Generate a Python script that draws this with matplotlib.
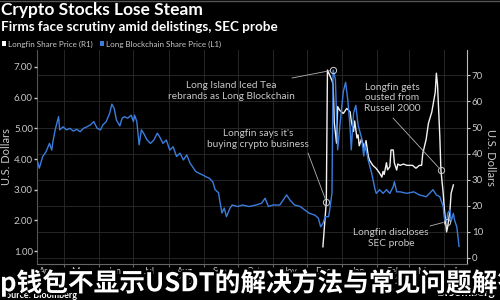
import matplotlib
matplotlib.use("Agg")
import matplotlib.pyplot as plt
import matplotlib.dates as mdates
import matplotlib.patheffects as pe
import matplotlib.transforms as mtrans
from matplotlib.patches import Patch
from matplotlib.lines import Line2D
import pandas as pd

# Long Blockchain (left axis, L1)
blockchain_dates = [
    "2017-04-07", "2017-04-09", "2017-04-12", "2017-04-15", "2017-04-18", "2017-04-20",
    "2017-04-21", "2017-04-23", "2017-04-26", "2017-04-27", "2017-04-30", "2017-05-03",
    "2017-05-06", "2017-05-09", "2017-05-12", "2017-05-15", "2017-05-18", "2017-05-21",
    "2017-05-24", "2017-05-27", "2017-05-30", "2017-06-02", "2017-06-04", "2017-06-07",
    "2017-06-10", "2017-06-12", "2017-06-14", "2017-06-16", "2017-06-19", "2017-06-21",
    "2017-06-23", "2017-06-26", "2017-06-29", "2017-07-01", "2017-07-02", "2017-07-04",
    "2017-07-06", "2017-07-08", "2017-07-10", "2017-07-13", "2017-07-16", "2017-07-19",
    "2017-07-22", "2017-07-24", "2017-07-27", "2017-07-30", "2017-08-02", "2017-08-05",
    "2017-08-08", "2017-08-11", "2017-08-14", "2017-08-17", "2017-08-20", "2017-08-22",
    "2017-08-25", "2017-08-28", "2017-08-31", "2017-09-03", "2017-09-06", "2017-09-09",
    "2017-09-11", "2017-09-14", "2017-09-15", "2017-09-17", "2017-09-19", "2017-09-21",
    "2017-09-24", "2017-09-26", "2017-10-01", "2017-10-05", "2017-10-11", "2017-10-17",
    "2017-10-22", "2017-10-25", "2017-10-28", "2017-11-01", "2017-11-07", "2017-11-11",
    "2017-11-13", "2017-11-16", "2017-11-20", "2017-11-25", "2017-11-29", "2017-12-03",
    "2017-12-08", "2017-12-11", "2017-12-13", "2017-12-15", "2017-12-17", "2017-12-20",
    "2017-12-21", "2017-12-23", "2017-12-24", "2017-12-26", "2017-12-28", "2017-12-30",
    "2018-01-02", "2018-01-04", "2018-01-06", "2018-01-08", "2018-01-09", "2018-01-11",
    "2018-01-13", "2018-01-15", "2018-01-18", "2018-01-20", "2018-01-21", "2018-01-24",
    "2018-01-27", "2018-01-30", "2018-01-31", "2018-02-03", "2018-02-06", "2018-02-09",
    "2018-02-12", "2018-02-15", "2018-02-16", "2018-02-18", "2018-02-21", "2018-02-27",
    "2018-03-05", "2018-03-10", "2018-03-16", "2018-03-19", "2018-03-22", "2018-03-25",
    "2018-03-28", "2018-03-31", "2018-04-01", "2018-04-03", "2018-04-04", "2018-04-06",
    "2018-04-07", "2018-04-09", "2018-04-10", "2018-04-12", "2018-04-13", "2018-04-14",
]
blockchain_price = [
    3.97, 3.70, 4.08, 4.24, 4.51, 4.29,
    4.56, 4.95, 5.38, 4.95, 5.05, 4.95,
    5.00, 4.91, 4.97, 4.89, 5.00, 5.05,
    5.11, 5.22, 5.00, 4.95, 5.11, 5.22,
    5.49, 5.79, 5.65, 5.27, 5.08, 5.33,
    5.38, 5.33, 5.43, 5.22, 5.43, 5.22,
    4.46, 4.95, 4.84, 4.62, 4.51, 4.62,
    4.84, 4.73, 4.51, 4.62, 4.29, 4.40,
    4.08, 4.19, 3.97, 4.13, 3.86, 3.75,
    3.59, 3.53, 3.48, 3.42, 3.37, 3.25,
    3.00, 2.90, 2.66, 2.24, 2.40, 2.12,
    2.39, 2.50, 2.45, 2.50, 2.45, 2.50,
    2.56, 2.72, 2.45, 2.50, 2.50, 2.72,
    2.83, 2.66, 2.50, 2.45, 2.34, 2.23,
    2.17, 2.07, 1.79, 1.90, 2.12, 2.12,
    2.34, 2.90, 6.90, 6.60, 4.30, 5.10,
    6.20, 6.50, 5.90, 5.00, 4.30, 5.50,
    5.75, 5.10, 4.70, 4.10, 4.50, 3.95,
    3.53, 3.00, 2.88, 3.00, 2.88, 3.00,
    2.88, 3.10, 3.26, 2.93, 2.93, 2.88,
    2.93, 2.83, 2.77, 2.88, 3.00, 2.83,
    2.77, 2.45, 2.07, 1.96, 2.23, 2.34,
    1.96, 2.23, 2.01, 1.79, 1.47, 1.15,
]

# Longfin (right axis, R1)
longfin_dates = [
    "2017-12-15", "2017-12-18", "2017-12-19", "2017-12-21", "2017-12-23", "2017-12-24",
    "2017-12-25", "2017-12-27", "2017-12-28", "2017-12-30", "2018-01-02", "2018-01-05",
    "2018-01-08", "2018-01-09", "2018-01-11", "2018-01-12", "2018-01-14", "2018-01-15",
    "2018-01-16", "2018-01-18", "2018-01-21", "2018-01-22", "2018-01-24", "2018-01-25",
    "2018-01-28", "2018-01-31", "2018-02-03", "2018-02-05", "2018-02-06", "2018-02-07",
    "2018-02-09", "2018-02-10", "2018-02-12", "2018-02-13", "2018-02-15", "2018-02-16",
    "2018-02-18", "2018-02-19", "2018-02-21", "2018-02-24", "2018-02-27", "2018-03-02",
    "2018-03-04", "2018-03-07", "2018-03-10", "2018-03-12", "2018-03-13", "2018-03-16",
    "2018-03-18", "2018-03-21", "2018-03-22", "2018-03-24", "2018-03-25", "2018-03-26",
    "2018-03-28", "2018-03-29", "2018-03-31", "2018-04-01", "2018-04-03", "2018-04-04",
    "2018-04-06", "2018-04-07", "2018-04-09",
]
longfin_price = [
    4.3, 21.6, 72.0, 70.0, 68.0, 66.5,
    52.0, 44.0, 58.0, 56.5, 55.4, 57.3,
    56.0, 52.5, 48.5, 52.5, 46.0, 47.2,
    43.0, 45.6, 41.4, 45.0, 39.0, 37.5,
    35.5, 34.3, 32.5, 31.0, 33.2, 32.0,
    36.5, 33.8, 35.0, 41.4, 41.4, 36.4,
    33.7, 36.0, 35.5, 36.0, 35.5, 35.5,
    35.5, 34.4, 35.5, 35.5, 40.0, 45.5,
    51.6, 56.0, 58.5, 63.5, 70.8, 66.5,
    47.0, 33.7, 25.0, 19.0, 10.0, 12.0,
    18.4, 24.8, 28.0,
]

# annotations: text, series, event date
notes = [
    ("Long Island Iced Tea\nrebrands as Long Blockchain", "blockchain", "2017-12-24"),
    ("Longfin says it's\nbuying crypto business", "longfin", "2017-12-18"),
    ("Longfin gets\nousted from\nRussell 2000", "longfin", "2018-03-29"),
    ("Longfin discloses\nSEC probe", "blockchain", "2018-04-03"),
]
# text centre and line start, in pixels from the top-left corner
note_text_px = [(231, 91), (258, 139), (392, 98), (391, 238)]
note_line_px = [(292, 78), (308, 153), (393, 118), (430, 226)]

title = "Crypto Stocks Lose Steam"
subtitle = "Firms face scrutiny amid delistings, SEC probe"
overlay = "p钱包不显示USDT的解决方法与常见问题解答"

W, H = 500, 300
BLUE = "#3b7ddd"
WHITE = "#f2f2f2"
GREY = "#c9c9c9"
GRID = "#2c2c2c"
FONT = "Lato"

fig = plt.figure(figsize=(5, 3), dpi=100, facecolor="black")
ax_r = fig.add_axes([37 / W, 1 - 264 / H, 430 / W, 214 / H])
ax = ax_r.twinx()
ax_r.yaxis.tick_right()
ax.yaxis.tick_left()
ax_r.yaxis.set_label_position("right")
ax.yaxis.set_label_position("left")
ax.set_zorder(ax_r.get_zorder() + 1)
ax.patch.set_visible(False)
ax_r.set_facecolor("black")

bd = pd.to_datetime(blockchain_dates)
ld = pd.to_datetime(longfin_dates)
ax_r.plot(ld, longfin_price, color=WHITE, lw=1.0)
ax.plot(bd, blockchain_price, color=BLUE, lw=1.0)

ax.set_ylim(0.577, 7.554)
ax_r.set_ylim(-2.3, 79.7)
ax.set_xlim(pd.Timestamp("2017-04-07"), pd.Timestamp("2018-04-21"))

ax.set_yticks([1, 2, 3, 4, 5, 6, 7])
ax.set_yticklabels(["%.2f" % v for v in [1, 2, 3, 4, 5, 6, 7]])
ax_r.set_yticks(range(0, 80, 10))

for a in (ax, ax_r):
    for s in a.spines.values():
        s.set_visible(False)
ax_r.spines["left"].set_visible(True)
ax_r.spines["right"].set_visible(True)
ax_r.spines["bottom"].set_visible(True)
ax_r.spines["left"].set_color("#555555")
ax_r.spines["bottom"].set_color("#666666")
ax_r.spines["right"].set_color("#bbbbbb")
for s in ax_r.spines.values():
    s.set_linewidth(0.8)

ax.tick_params(axis="y", colors=GREY, labelsize=7, length=2, width=1, pad=1)
ax_r.tick_params(axis="y", colors=GREY, labelsize=7, length=2, width=0.8, pad=1.5)
for lab in ax.get_yticklabels() + ax_r.get_yticklabels():
    lab.set_fontfamily(FONT)

ax_r.xaxis.set_major_locator(mdates.MonthLocator())
ax_r.xaxis.set_major_formatter(plt.NullFormatter())
ax_r.xaxis.set_minor_locator(mdates.MonthLocator(bymonthday=15))
ax_r.xaxis.set_minor_formatter(mdates.DateFormatter("%b"))
ax_r.tick_params(axis="x", which="major", length=2, color="#666666")
ax_r.tick_params(axis="x", which="minor", length=0, colors=GREY, labelsize=6.5, pad=2)
for lab in ax_r.get_xticklabels(minor=True):
    lab.set_fontfamily(FONT)
ax.tick_params(axis="x", which="both", length=0, labelbottom=False)

ax_r.grid(True, which="major", color=GRID, lw=0.6)

# year labels centred under each year's span
xf = mtrans.blended_transform_factory(ax_r.transData, ax_r.transAxes)
for yr, mid in [("2017", "2017-08-19"), ("2018", "2018-02-25")]:
    ax_r.text(pd.Timestamp(mid), -0.08, yr, transform=xf, ha="center", va="center",
              color=GREY, fontsize=6.5, family=FONT)

ax.set_ylabel("U.S. Dollars", color=GREY, fontsize=8, family=FONT, labelpad=1)
ax_r.set_ylabel("U.S. Dollars", color=GREY, fontsize=8, family=FONT, rotation=270,
                labelpad=9)


def px(x, y):
    return (x, H - y)


series = {"blockchain": (ax, blockchain_dates, blockchain_price),
          "longfin": (ax_r, longfin_dates, longfin_price)}
for (txt, key, when), tpos, lpos in zip(notes, note_text_px, note_line_px):
    a, dates, vals = series[key]
    i = dates.index(when)
    pt = (pd.Timestamp(when), vals[i])
    a.annotate("", xy=pt, xytext=px(*lpos), textcoords="figure pixels",
               arrowprops=dict(arrowstyle="-", color="#b5b5b5", lw=0.6,
                               shrinkA=0, shrinkB=2.5))
    a.plot([pt[0]], [pt[1]], marker="o", ms=4.5, mfc="none", mec="#cfcfcf", mew=0.7)
    fig.text(tpos[0] / W, 1 - tpos[1] / H, txt, ha="center", va="center",
             color=GREY, fontsize=7.3, family=FONT, linespacing=1.15)

# headings and legend
fig.text(1 / W, 1 - 10.5 / H, title, color="white", fontsize=12.5, weight="bold",
         family=FONT, va="center", ha="left")
fig.text(1 / W, 1 - 27 / H, subtitle, color="white", fontsize=9.7, weight="bold",
         family=FONT, va="center", ha="left")
handles = [Patch(facecolor="white", edgecolor="none"), Patch(facecolor=BLUE, edgecolor="none")]
fig.legend(handles, ["Longfin Share Price (R1)", "Long Blockchain Share Price (L1)"],
           loc="center left", bbox_to_anchor=(0.0, 1 - 44 / H), ncol=2, frameon=False,
           handlelength=0.55, handleheight=0.55, handletextpad=0.3, columnspacing=0.8,
           borderaxespad=0, borderpad=0.2, labelcolor=GREY,
           prop={"family": FONT, "size": 5.8})
fig.add_artist(Line2D([0, 1], [1 - 0.5 / H, 1 - 0.5 / H], color="#555555", lw=1,
                      transform=fig.transFigure))

fig.text(1 / W, 1 - 296 / H, "Source: Bloomberg", color="white", fontsize=6.5,
         weight="bold", family=FONT, va="center", ha="left")
fig.text(437 / W, 1 - 292 / H, "Bloomberg", color="white", fontsize=8.5,
         weight="bold", family=FONT, va="center", ha="left")

fig.text(0 / W, 1 - 283 / H, overlay, color="white", fontsize=18.5, weight="bold",
         family=["Noto Sans CJK SC", "DejaVu Sans"], va="center", ha="left",
         path_effects=[pe.withStroke(linewidth=3, foreground="black")])

fig.savefig("out.png", dpi=100, facecolor="black")
